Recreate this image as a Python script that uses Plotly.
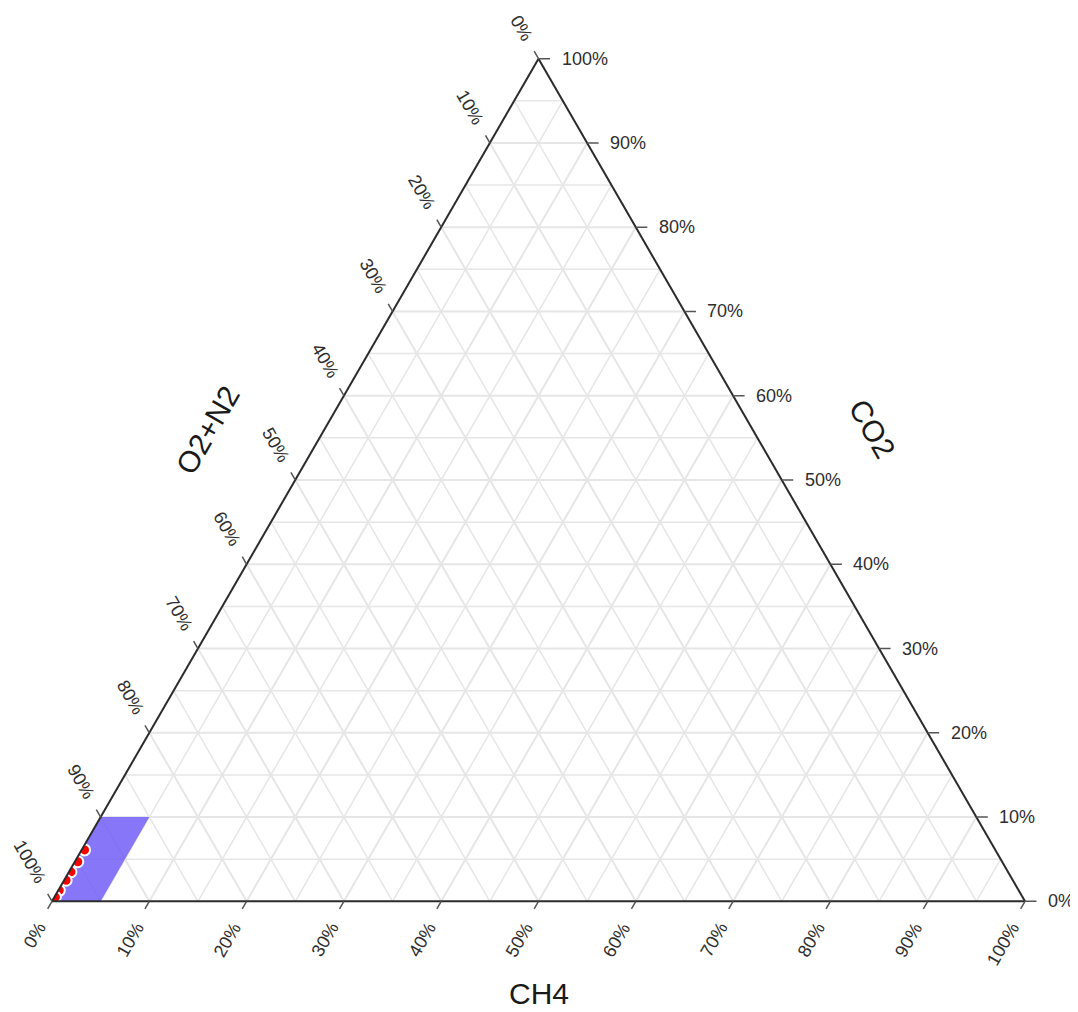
import math
import plotly.graph_objects as go

# ---------------- data ----------------
# vertex assignment: CO2 at top, O2+N2 at bottom-left, CH4 at bottom-right
tick_values = [0, 10, 20, 30, 40, 50, 60, 70, 80, 90, 100]
tick_labels = [f"{v}%" for v in tick_values]
minor_grid_values = [5, 15, 25, 35, 45, 55, 65, 75, 85, 95]

# measured gas samples (%)
sample_co2 = [6.1, 4.7, 3.5, 2.5, 1.3, 0.5]
sample_ch4 = [0.3, 0.3, 0.2, 0.2, 0.1, 0.1]
sample_o2n2 = [round(100 - a - c, 2) for a, c in zip(sample_co2, sample_ch4)]

# shaded zone: CO2 0-10 %, CH4 0-5 %
zone_co2 = [0, 0, 10, 10, 0]
zone_ch4 = [0, 5, 5, 0, 0]
zone_o2n2 = [100 - a - c for a, c in zip(zone_co2, zone_ch4)]

# ---------------- styles ----------------
GRID = "#e6e6e6"
TICK_COLOR = "#555555"
TICK_FONT = dict(family="Liberation Sans, Arial, sans-serif", size=18, color="#2e2e2e")
TITLE_FONT = dict(family="Liberation Sans, Arial, sans-serif", size=30, color="#1a1a1a")
H = math.sqrt(3) / 2
TICK_LEN = 11


def to_xy(co2, ch4):
    """Ternary composition -> overlay cartesian coordinates (triangle side = 1)."""
    return (ch4 + co2 / 2) / 100.0, co2 / 100.0 * H


fig = go.Figure()

# 5 % minor grid drawn through the ternary scale
ga, gb, gc = [], [], []
for v in minor_grid_values:
    ga += [v, v, None];           gb += [100 - v, 0, None];     gc += [0, 100 - v, None]
    ga += [100 - v, 0, None];     gb += [v, v, None];           gc += [0, 100 - v, None]
    ga += [100 - v, 0, None];     gb += [0, 100 - v, None];     gc += [v, v, None]
fig.add_trace(go.Scatterternary(
    a=ga, b=gb, c=gc, mode="lines", line=dict(color=GRID, width=1.5),
    connectgaps=False, hoverinfo="skip", showlegend=False))

# shaded zone
fig.add_trace(go.Scatterternary(
    a=zone_co2, b=zone_o2n2, c=zone_ch4, mode="lines", fill="toself",
    fillcolor="rgba(112,92,245,0.84)", line=dict(width=0, color="rgba(0,0,0,0)"),
    hoverinfo="skip", showlegend=False))

# samples
fig.add_trace(go.Scatterternary(
    a=sample_co2, b=sample_o2n2, c=sample_ch4, mode="markers",
    marker=dict(color="#ff0000", size=11, line=dict(color="white", width=2)),
    cliponaxis=True, showlegend=False, name="samples"))

# invisible anchor trace for the overlay cartesian axes (used for labels)
anchor_pts = [to_xy(0, 0), to_xy(0, 100), to_xy(100, 0)]
fig.add_trace(go.Scatter(
    x=[p[0] for p in anchor_pts], y=[p[1] for p in anchor_pts], mode="markers",
    marker=dict(opacity=0, size=1), hoverinfo="skip", showlegend=False,
    xaxis="x", yaxis="y"))

axis_common = dict(
    min=0, dtick=10, tick0=0, ticks="", showticklabels=False, showgrid=True,
    gridcolor=GRID, gridwidth=1.5, showline=True, linecolor="#2b2b2b", linewidth=2,
    title=dict(text=""))

c60, s60 = 0.5, math.sqrt(3) / 2
tick_dirs = {
    "bottom": (-c60 * TICK_LEN, s60 * TICK_LEN),   # along constant-CH4 lines, down-left
    "left": (-c60 * TICK_LEN, -s60 * TICK_LEN),    # along constant-O2+N2 lines, up-left
    "right": (TICK_LEN + 2, 0),                     # along constant-CO2 lines, right
}


def tick_mark(x, y, side):
    ax, ay = tick_dirs[side]
    return dict(x=x, y=y, xref="x", yref="y", text=" ", font=dict(size=1),
                showarrow=True, arrowhead=0, arrowwidth=1.5, arrowcolor=TICK_COLOR,
                ax=ax, ay=ay, standoff=0)


annotations = []
for v, lab in zip(tick_values, tick_labels):
    # CH4 along the bottom edge
    x, y = to_xy(0, v)
    annotations.append(tick_mark(x, y, "bottom"))
    annotations.append(dict(x=x, y=y, xref="x", yref="y", text=lab, showarrow=False,
                            textangle=-60, xanchor="right", yanchor="top",
                            xshift=1, yshift=-15, font=TICK_FONT))
    # O2+N2 along the left edge
    x, y = to_xy(100 - v, 0)
    annotations.append(tick_mark(x, y, "left"))
    annotations.append(dict(x=x, y=y, xref="x", yref="y", text=lab, showarrow=False,
                            textangle=60, xanchor="right", yanchor="bottom",
                            xshift=1, yshift=12, font=TICK_FONT))
    # CO2 along the right edge
    x, y = to_xy(v, 100 - v)
    annotations.append(tick_mark(x, y, "right"))
    annotations.append(dict(x=x, y=y, xref="x", yref="y", text=lab, showarrow=False,
                            xanchor="left", yanchor="middle", xshift=21, yshift=0,
                            font=TICK_FONT))

# axis titles
x, y = to_xy(0, 50)
annotations.append(dict(x=x, y=y, xref="x", yref="y", text="CH4", showarrow=False,
                        xanchor="center", yanchor="middle", yshift=-92, font=TITLE_FONT))
x, y = to_xy(50, 50)
annotations.append(dict(x=x, y=y, xref="x", yref="y", text="CO2", showarrow=False,
                        textangle=60, xanchor="center", yanchor="middle",
                        xshift=90, yshift=51, font=TITLE_FONT))
x, y = to_xy(50, 0)
annotations.append(dict(x=x, y=y, xref="x", yref="y", text="O2+N2", showarrow=False,
                        textangle=-60, xanchor="center", yanchor="middle",
                        xshift=-87, yshift=50, font=TITLE_FONT))

hidden_axis = dict(showgrid=False, zeroline=False, showline=False, ticks="",
                   showticklabels=False, fixedrange=True)

# the page body adds an 8px offset, so the figure is sized to fit the window
fig.update_layout(
    width=1070, height=1004,
    margin=dict(l=44, r=53, t=49, b=109, pad=0),
    paper_bgcolor="white", plot_bgcolor="rgba(0,0,0,0)",
    showlegend=False,
    font=dict(family="Liberation Sans, Arial, sans-serif"),
    ternary=dict(sum=100, bgcolor="white", domain=dict(x=[0, 1], y=[0, 1]),
                 aaxis=axis_common, baxis=axis_common, caxis=axis_common),
    xaxis=dict(range=[0, 1], domain=[0, 1], constrain="domain", **hidden_axis),
    yaxis=dict(range=[0, H], domain=[0, 1], scaleanchor="x", scaleratio=1,
               constrain="domain", **hidden_axis),
    annotations=annotations,
)

fig.write_html("out.html")
